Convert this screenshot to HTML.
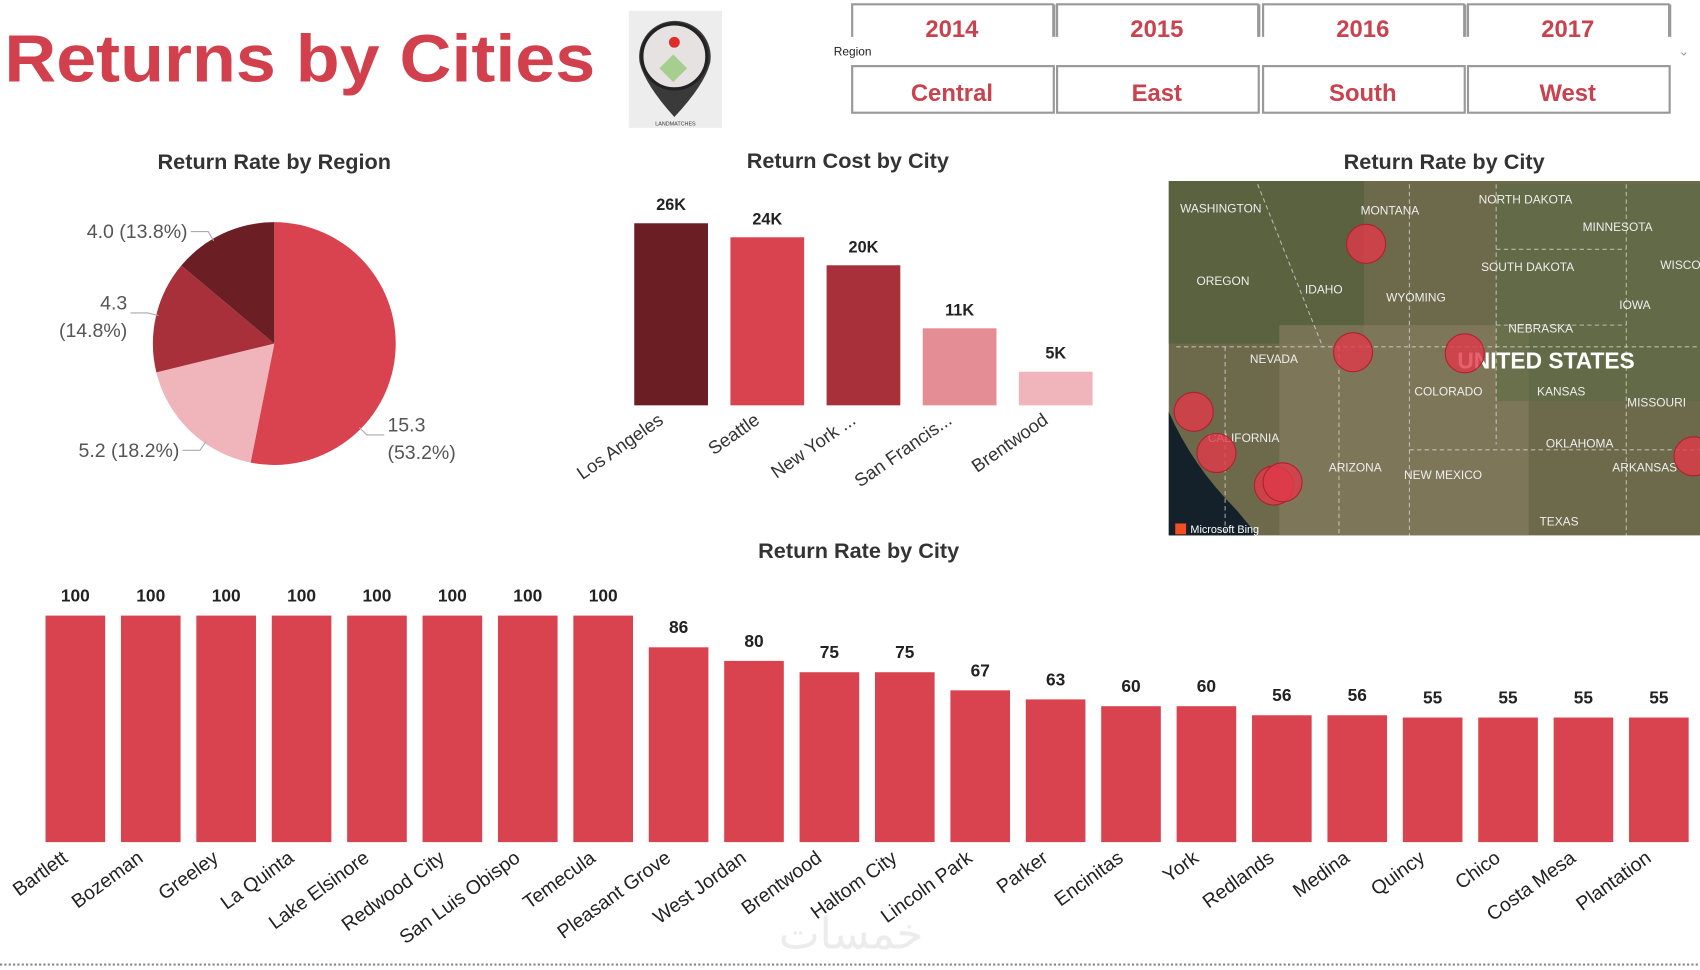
<!DOCTYPE html>
<html><head><meta charset="utf-8"><style>
html,body{margin:0;padding:0;background:#fff;width:1700px;height:970px;overflow:hidden}
svg{display:block}
text{font-family:"Liberation Sans",sans-serif}
</style></head><body>
<svg id="root" width="1700" height="970" viewBox="0 0 1568 895" preserveAspectRatio="none" xmlns="http://www.w3.org/2000/svg">
<text x="4" y="75" font-size="62" font-weight="bold" fill="#d1404c" textLength="545" lengthAdjust="spacingAndGlyphs">Returns by Cities</text>
<g>
<rect x="580" y="10" width="86" height="108" fill="#eeeded"/>
<path d="M590,58 A33,33 0 1 1 655,58 Q650,78 622,108 Q595,78 590,58Z" fill="#3a3a3a"/>
<circle cx="622" cy="52" r="30" fill="#e6e2e2" stroke="#222" stroke-width="3"/>
<rect x="612" y="54" width="18" height="18" fill="#a6cf8f" transform="rotate(45 621 63)"/>
<circle cx="622" cy="39" r="5" fill="#e02b2b"/>
<text x="623" y="116" font-size="5" text-anchor="middle" fill="#333">LANDMATCHES</text>
</g>
<g id="slicers"></g>
<text x="769" y="51" font-size="11" fill="#222">Region</text>
<text x="1548" y="51" font-size="12" fill="#999">⌄</text>
<text x="253" y="156" font-size="20" font-weight="bold" fill="#333" text-anchor="middle">Return Rate by Region</text>
<g id="pie"></g>
<text x="782" y="155" font-size="20" font-weight="bold" fill="#333" text-anchor="middle">Return Cost by City</text>
<g id="cost"></g>
<text x="1332" y="156" font-size="20" font-weight="bold" fill="#333" text-anchor="middle">Return Rate by City</text>
<g id="map"></g>
<text x="792" y="515" font-size="20" font-weight="bold" fill="#333" text-anchor="middle">Return Rate by City</text>
<g id="rate"></g>
<text x="785" y="875" font-size="40" fill="#ececec" text-anchor="middle">خمسات</text>
<line x1="0" y1="890" x2="1568" y2="890" stroke="#888" stroke-width="2" stroke-dasharray="2,2"/>
</svg>
<script>
const NS="http://www.w3.org/2000/svg";
function mk(p,tag,a,txt){const e=document.createElementNS(NS,tag);for(const k in a)e.setAttribute(k,a[k]);if(txt!==undefined)e.textContent=txt;p.appendChild(e);return e;}

// slicers
const years=["2014","2015","2016","2017"];
const regions=["Central","East","South","West"];
const slX=[786,975,1165,1354];
const sl=document.getElementById('slicers');
years.forEach((y,i)=>{
  const g=mk(sl,'g',{});
  
  
  mk(g,'path',{d:`M${slX[i]},34 V4 H${slX[i]+186}`,fill:'none',stroke:'#999','stroke-width':2});
  mk(g,'path',{d:`M${slX[i]+186},4 V34`,fill:'none',stroke:'#999','stroke-width':3});
  mk(g,'text',{x:slX[i]+92,y:34,'font-size':22,'font-weight':'bold',fill:'#c9424e','text-anchor':'middle'},y);
});
regions.forEach((r,i)=>{
  const g=mk(sl,'g',{});
  
  
  mk(g,'rect',{x:slX[i],y:61,width:186,height:43,fill:'#fff',stroke:'#999','stroke-width':2});
  mk(g,'text',{x:slX[i]+92,y:93,'font-size':22,'font-weight':'bold',fill:'#c9424e','text-anchor':'middle'},r);
});

// pie
const pieValues=[15.3,5.2,4.3,4.0];
const pieLabels=["15.3","5.2 (18.2%)","4.3","4.0 (13.8%)"];
const pieLabels2=["(53.2%)","","(14.8%)",""];
const pieColors=["#d9434f","#f0b5ba","#a8303b","#6b1f25"];
const pie=document.getElementById('pie');
const cx=253,cy=317,R=112;
const tot=pieValues.reduce((a,b)=>a+b,0);
// label anchor placement (layout only)
const labAng=[2.35,3.75,4.95,5.75];
const labOff=[[16,0],[-16,0],[-16,0],[-16,0]];
let ang=0;
pieValues.forEach((v,i)=>{
  const a0=ang,a1=ang+v/tot*2*Math.PI;ang=a1;
  const p=(a)=>[cx+R*Math.sin(a),cy-R*Math.cos(a)];
  const [x0,y0]=p(a0),[x1,y1]=p(a1);
  const s=mk(pie,'path',{d:`M${cx},${cy} L${x0},${y0} A${R},${R} 0 ${a1-a0>Math.PI?1:0} 1 ${x1},${y1}Z`,fill:pieColors[i]});
  
  
  const m=labAng[i];
  const ex=cx+(R+8)*Math.sin(m),ey=cy-(R+8)*Math.cos(m);
  const right=Math.sin(m)>0;
  const lx=ex+labOff[i][0];
  mk(pie,'polyline',{points:`${cx+(R-2)*Math.sin(m)},${cy-(R-2)*Math.cos(m)} ${ex},${ey} ${lx},${ey}`,fill:'none',stroke:'#aaa'});
  const anchor=right?'start':'end';
  const tx=lx+(right?3:-3);
  const two=pieLabels2[i]!=="";
  const t=mk(pie,'text',{x:tx,y:two?ey-3:ey+6,'font-size':18,fill:'#555','text-anchor':anchor},pieLabels[i]);
  
  
  if(two){const t2=mk(pie,'text',{x:tx,y:ey+22,'font-size':18,fill:'#555','text-anchor':anchor},pieLabels2[i]);
    
    }
});

// cost bars
const costCities=["Los Angeles","Seattle","New York ...","San Francis...","Brentwood"];
const costValues=[26,24,20,11,4.8];
const costLabels=["26K","24K","20K","11K","5K"];
const costColors=["#6b1f25","#d9434f","#a8303b","#e48d95","#f0b5ba"];
const cost=document.getElementById('cost');
const cBase=374,cScale=168/26,cX0=585,cPitch=88.7,cW=68;
costValues.forEach((v,i)=>{
  const x=cX0+i*cPitch,h=v*cScale;
  const b=mk(cost,'rect',{x:x,y:cBase-h,width:cW,height:h,fill:costColors[i]});
  
  
  const l=mk(cost,'text',{x:x+cW/2,y:cBase-h-12,'font-size':15,'font-weight':'bold',fill:'#222','text-anchor':'middle'},costLabels[i]);
  
  
  const xl=mk(cost,'text',{x:x+cW/2-6,y:390,'font-size':17,fill:'#333','text-anchor':'end',transform:`rotate(-35 ${x+cW/2-6} 390)`},costCities[i]);
  
  
});

// map
const map=document.getElementById('map');
mk(map,'rect',{x:1078,y:167,width:490,height:327,fill:'#6d6a4c'});
mk(map,'rect',{x:1078,y:167,width:180,height:150,fill:'#53603c',opacity:0.7});
mk(map,'rect',{x:1180,y:300,width:230,height:194,fill:'#8a7f63',opacity:0.6});
mk(map,'rect',{x:1380,y:170,width:188,height:200,fill:'#5d6a45',opacity:0.6});
mk(map,'path',{d:'M1078,380 Q1100,430 1140,470 L1160,494 L1078,494Z',fill:'#15212a'});
['M1085,320 H1570','M1130,320 V494','M1235,320 V494','M1300,170 V494','M1380,170 V410','M1300,415 H1568','M1380,230 H1500','M1380,300 H1500','M1500,170 V494','M1160,170 L1220,320'].forEach(d=>mk(map,'path',{d:d,stroke:'#ddd','stroke-width':1,'stroke-dasharray':'4,3',fill:'none',opacity:0.7}));
const states=[["WASHINGTON",1126,196],["MONTANA",1282,198],["NORTH DAKOTA",1407,188],["MINNESOTA",1492,213],["OREGON",1128,263],["IDAHO",1221,271],["WYOMING",1306,278],["SOUTH DAKOTA",1409,250],["IOWA",1508,285],["NEBRASKA",1421,307],["NEVADA",1175,335],["COLORADO",1336,365],["KANSAS",1440,365],["MISSOURI",1528,375],["CALIFORNIA",1147,408],["OKLAHOMA",1457,413],["ARIZONA",1250,435],["NEW MEXICO",1331,442],["ARKANSAS",1517,435],["TEXAS",1438,485],["WISCO",1550,248]];
states.forEach(s=>mk(map,'text',{x:s[1],y:s[2],'font-size':11,fill:'#eee','text-anchor':'middle'},s[0]));
mk(map,'text',{x:1426,y:340,'font-size':21,'font-weight':'bold',fill:'#fff','text-anchor':'middle'},'UNITED STATES');
const pts=[[1260,225],[1248,325],[1351,326],[1101,380],[1122,418],[1175,448],[1183,445],[1562,421]];
pts.forEach(p=>{const c=mk(map,'circle',{cx:p[0],cy:p[1],r:18,fill:'#e03a48','fill-opacity':0.8,stroke:'#b02030'});
  
  });
mk(map,'rect',{x:1084,y:483,width:10,height:10,fill:'#f25022'});
mk(map,'text',{x:1098,y:492,'font-size':10,fill:'#fff'},'Microsoft Bing');

// rate bars
const rateCities=["Bartlett","Bozeman","Greeley","La Quinta","Lake Elsinore","Redwood City","San Luis Obispo","Temecula","Pleasant Grove","West Jordan","Brentwood","Haltom City","Lincoln Park","Parker","Encinitas","York","Redlands","Medina","Quincy","Chico","Costa Mesa","Plantation"];
const rateValues=[100,100,100,100,100,100,100,100,86,80,75,75,67,63,60,60,56,56,55,55,55,55];
const rate=document.getElementById('rate');
const rBase=777,rScale=209/100,rX0=42,rPitch=69.55,rW=55;
rateValues.forEach((v,i)=>{
  const x=rX0+i*rPitch,h=v*rScale;
  const b=mk(rate,'rect',{x:x,y:rBase-h,width:rW,height:h,fill:'#d9434f'});
  
  
  const l=mk(rate,'text',{x:x+rW/2,y:rBase-h-13,'font-size':16,'font-weight':'bold',fill:'#222','text-anchor':'middle'},String(v));
  
  
  const cxl=x+rW/2-6;
  const xl=mk(rate,'text',{x:cxl,y:794,'font-size':18,fill:'#222','text-anchor':'end',transform:`rotate(-36 ${cxl} 794)`},rateCities[i]);
  
  
});
</script>
</body></html>
